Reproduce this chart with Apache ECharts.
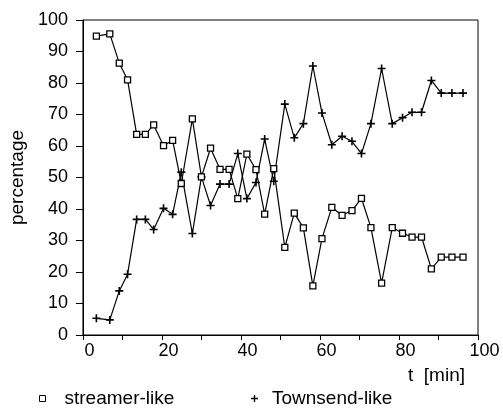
<!DOCTYPE html>
<html>
<head>
<meta charset="utf-8">
<script src="https://cdn.jsdelivr.net/npm/echarts@6/dist/echarts.min.js"></script>
<style>
html,body{margin:0;padding:0;background:#fff;}
#c{width:503px;height:411px;}
</style>
</head>
<body>
<div id="c"></div>
<script>
// time [min]
var tMin = [3.4, 6.8, 9.2, 11.3, 13.6, 15.8, 17.9, 20.4, 22.7, 24.9,
  27.7, 30.0, 32.3, 34.7, 37.0, 39.2, 41.5, 43.8, 46.0, 48.3,
  51.1, 53.5, 55.8, 58.2, 60.5, 63.0, 65.6, 68.1, 70.5, 72.9,
  75.6, 78.3, 80.9, 83.3, 85.7, 88.2, 90.7, 93.4, 96.2];
// streamer-like percentage
var streamer = [94.9, 95.6, 86.3, 81.0, 63.7, 63.7, 66.7, 60.1, 61.8, 48.1,
  68.6, 50.2, 59.3, 52.6, 52.6, 43.3, 57.4, 52.5, 38.4, 52.8,
  27.8, 38.7, 34.0, 15.6, 30.6, 40.5, 38.0, 39.5, 43.4, 34.1,
  16.5, 34.1, 32.3, 31.1, 31.1, 21.0, 24.7, 24.7, 24.7];
// Townsend-like percentage
var townsend = [5.3, 4.8, 14.0, 19.3, 36.7, 36.7, 33.5, 40.2, 38.3, 51.7,
  32.2, 50.2, 41.1, 47.9, 47.9, 57.6, 43.3, 48.4, 62.2, 48.8,
  73.3, 62.6, 67.1, 85.4, 70.5, 60.4, 63.1, 61.5, 57.6, 67.1,
  84.6, 67.1, 69.0, 70.7, 70.7, 80.8, 76.8, 76.8, 76.8];
var xTicks = [0, 20, 40, 60, 80, 100];
var yTicks = [0, 10, 20, 30, 40, 50, 60, 70, 80, 90, 100];
var names = ['streamer-like', 'Townsend-like'];
var xName = 't  [min]';
var yName = 'percentage';

function pairs(xs, ys) { return xs.map(function (x, i) { return [x, ys[i]]; }); }

var FONT = '"Liberation Sans", Arial, Helvetica, sans-serif';
var PLUS = 'path://M4,0H6V4H10V6H6V10H4V6H0V4H4Z';

var chart = echarts.init(document.getElementById('c'), null, {renderer: 'canvas'});
chart.setOption({
  animation: false,
  backgroundColor: '#fff',
  grid: {left: 82, right: 25, top: 20, bottom: 76, show: true,
    borderColor: '#000', borderWidth: 1, backgroundColor: 'transparent'},
  xAxis: {
    type: 'value', min: 0, max: 100, interval: 10,
    axisLine: {show: true, lineStyle: {color: '#000', width: 1}},
    axisTick: {show: true, length: 5, lineStyle: {color: '#000'}},
    splitLine: {show: false},
    axisLabel: {color: '#000', fontSize: 18, fontFamily: FONT, margin: 7,
      padding: [0, 0, 0, 13],
      formatter: function (v) { return xTicks.indexOf(v) >= 0 ? String(v) : ''; }}
  },
  yAxis: {
    type: 'value', min: 0, max: 100, interval: 10,
    name: yName, nameLocation: 'middle', nameGap: 54,
    nameTextStyle: {color: '#000', fontSize: 19, fontFamily: FONT},
    axisLine: {show: true, lineStyle: {color: '#000', width: 1}},
    axisTick: {show: true, length: 7, lineStyle: {color: '#000'}},
    splitLine: {show: false},
    axisLabel: {color: '#000', fontSize: 18, fontFamily: FONT, margin: 15,
      formatter: function (v) { return yTicks.indexOf(v) >= 0 ? String(v) : ''; }}
  },
  legend: [
    {data: [{name: names[0], icon: 'rect'}], left: 39, top: 389, padding: 0, selectedMode: false,
      itemWidth: 6, itemHeight: 6,
      itemStyle: {color: '#fff', borderColor: '#000', borderWidth: 1},
      textStyle: {color: '#000', fontSize: 19, fontFamily: FONT, padding: [0, 0, 0, 14]}},
    {data: [{name: names[1], icon: PLUS}], left: 251, top: 389, padding: 0, selectedMode: false,
      itemWidth: 7, itemHeight: 7,
      itemStyle: {color: '#000', borderWidth: 0},
      textStyle: {color: '#000', fontSize: 19, fontFamily: FONT, padding: [0, 0, 0, 9]}}
  ],
  graphic: [
    {type: 'text', left: 408, top: 366,
      style: {text: xName, fill: '#000', font: '19px ' + FONT}}
  ],
  series: [
    {name: names[1], type: 'line', data: pairs(tMin, townsend),
      symbol: PLUS, symbolSize: 8,
      lineStyle: {color: '#000', width: 1.2},
      itemStyle: {color: '#000', borderWidth: 0}, z: 2},
    {name: names[0], type: 'line', data: pairs(tMin, streamer),
      symbol: 'rect', symbolSize: 6,
      lineStyle: {color: '#000', width: 1.2},
      itemStyle: {color: '#fff', borderColor: '#000', borderWidth: 1.3}, z: 3}
  ]
});
</script>
</body>
</html>
